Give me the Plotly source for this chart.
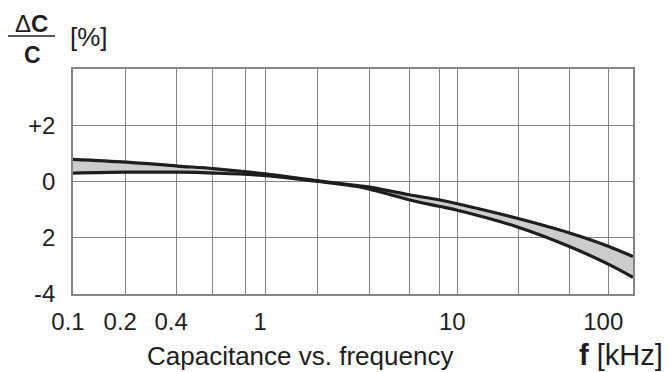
import plotly.graph_objects as go

# Capacitance drift vs. frequency: upper and lower bound of the tolerance band
freq_khz = [0.1, 0.19, 0.35, 0.54, 1.0, 1.9, 3.1, 3.5, 5.6, 8.0, 10.0, 20.0, 38.0, 61.0, 82.0]
upper_pct = [0.79, 0.69, 0.55, 0.46, 0.27, 0.02, -0.15, -0.20, -0.47, -0.65, -0.79, -1.29, -1.82, -2.30, -2.67]
lower_pct = [0.30, 0.33, 0.33, 0.30, 0.21, 0.00, -0.19, -0.27, -0.65, -0.88, -1.02, -1.59, -2.30, -2.94, -3.41]

# Log grid lines and the labels printed under them
grid_khz = [0.1, 0.187, 0.344, 0.535, 0.794, 1.0, 1.88, 3.51, 5.66, 8.1, 10.0, 20.7, 38.5, 61.0]
grid_labels = ["0.1", "0.2", "0.4", "", "", "1", "", "", "", "", "10", "", "", "100"]

y_ticks = [-4, -2, 0, 2]
y_labels = ["-4", "2", "0", "+2"]

INK = "#1e1e1e"
GRID = "#858585"
FONT = "Liberation Sans, Arial, sans-serif"

fig = go.Figure()
fig.add_trace(go.Scatter(
    x=freq_khz, y=upper_pct, mode="lines", line=dict(color=INK, width=3.2, shape="spline"),
    hoverinfo="skip", showlegend=False))
fig.add_trace(go.Scatter(
    x=freq_khz, y=lower_pct, mode="lines", line=dict(color=INK, width=3.2, shape="spline"),
    fill="tonexty", fillcolor="#cccccc", hoverinfo="skip", showlegend=False))

L, R, T, B = 73, 36, 69, 78
W, H = 669, 372
pw, ph = W - L - R, H - T - B


def px(x):
    return (x - L) / pw


def py(y):
    return (H - B - y) / ph


fig.update_layout(
    width=W, height=H,
    margin=dict(l=L, r=R, t=T, b=B, pad=0),
    paper_bgcolor="white", plot_bgcolor="white",
    font=dict(family=FONT, color=INK, size=24),
    xaxis=dict(
        type="log", range=[-1, 1.914],
        tickvals=grid_khz, ticktext=grid_labels, tickmode="array",
        showgrid=True, gridcolor=GRID, gridwidth=1.4,
        showline=True, linecolor=GRID, linewidth=1.8, mirror=True,
        ticks="", tickfont=dict(size=24, color=INK), ticklabelstandoff=5,
        ticklabelshift=-5, zeroline=False,
    ),
    yaxis=dict(
        range=[-4, 4],
        tickvals=y_ticks, ticktext=y_labels, tickmode="array",
        showgrid=True, gridcolor=GRID, gridwidth=1.4,
        showline=True, linecolor=GRID, linewidth=1.8, mirror=True,
        ticks="", tickfont=dict(size=24, color=INK), ticklabelstandoff=11,
        zeroline=False,
    ),
    shapes=[dict(type="line", xref="paper", yref="paper",
                 x0=px(8), x1=px(55), y0=py(36), y1=py(36),
                 line=dict(color=INK, width=1.5))],
    annotations=[
        dict(text="Δ<b>C</b>", xref="paper", yref="paper", x=px(31), y=py(23),
             showarrow=False, font=dict(size=24), xanchor="center", yanchor="middle"),
        dict(text="<b>C</b>", xref="paper", yref="paper", x=px(32), y=py(55),
             showarrow=False, font=dict(size=23), xanchor="center", yanchor="middle"),
        dict(text="[%]", xref="paper", yref="paper", x=px(89), y=py(37),
             showarrow=False, font=dict(size=26), xanchor="center", yanchor="middle"),
        dict(text="<b>f</b> [kHz]", xref="paper", yref="paper", x=px(621), y=py(355),
             showarrow=False, font=dict(size=29), xanchor="center", yanchor="middle"),
        dict(text="Capacitance vs. frequency", xref="paper", yref="paper", x=px(300), y=py(356),
             showarrow=False, font=dict(size=26), xanchor="center", yanchor="middle"),
    ],
)

fig.write_html("out.html")
